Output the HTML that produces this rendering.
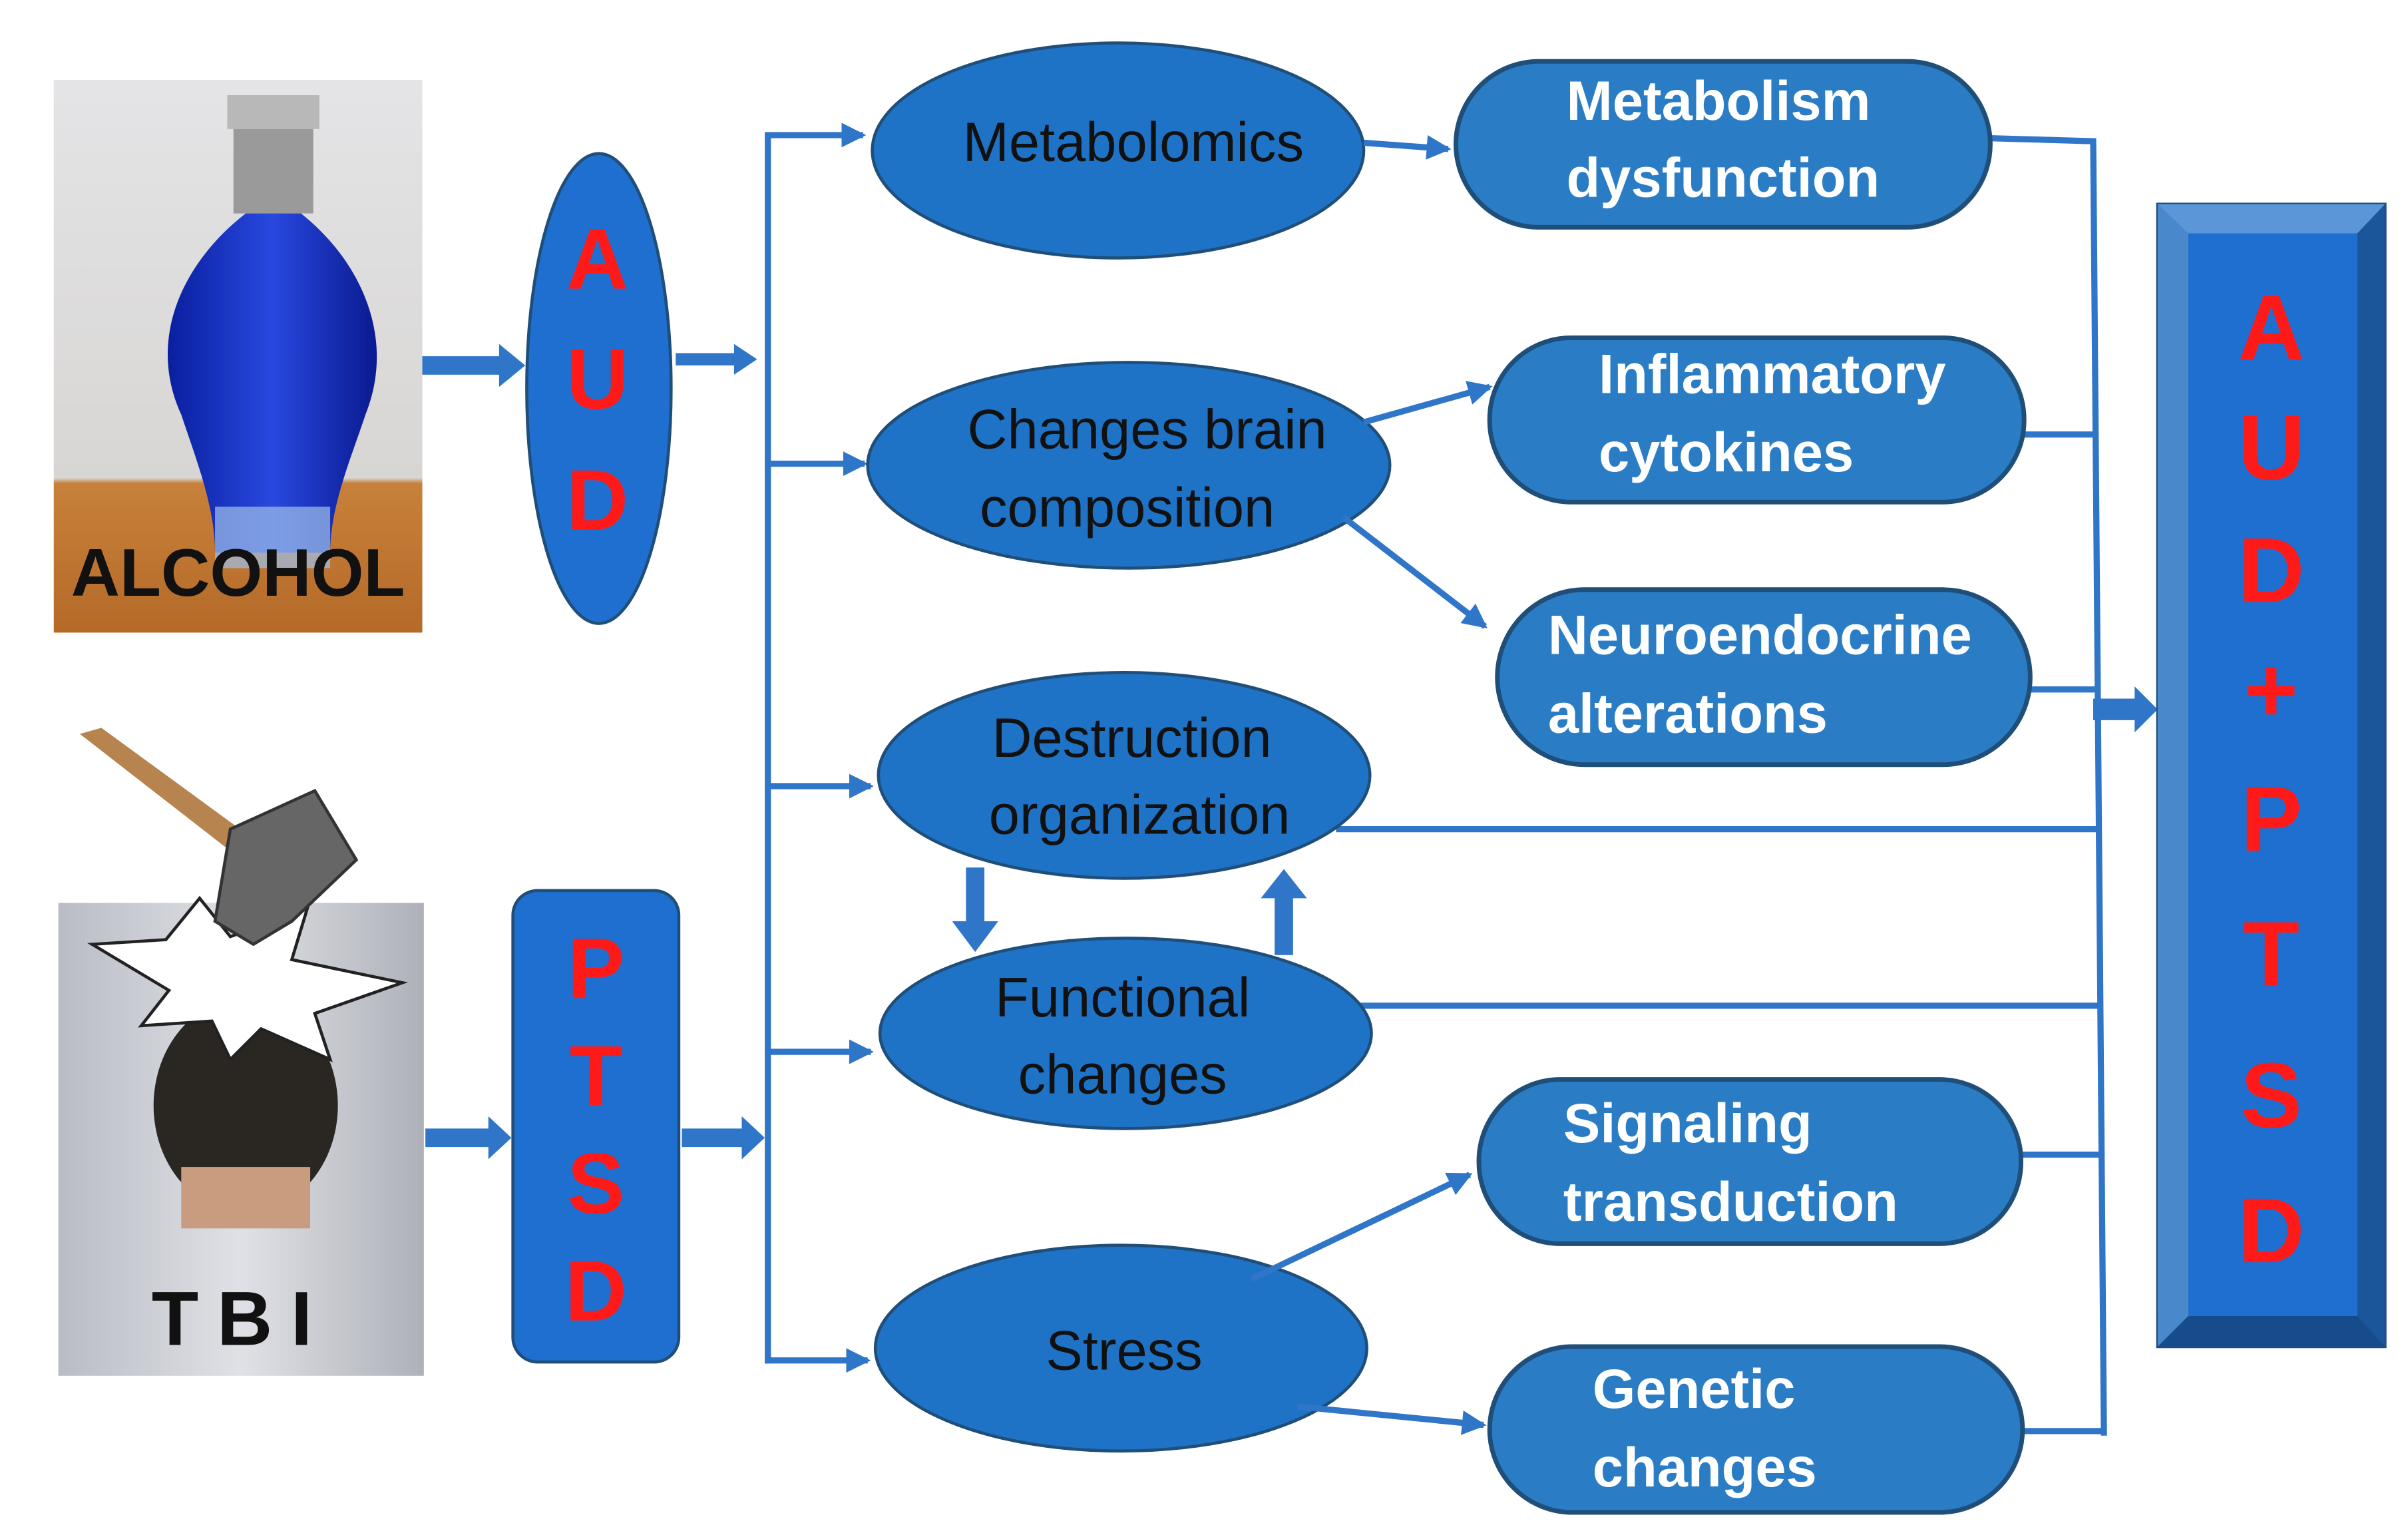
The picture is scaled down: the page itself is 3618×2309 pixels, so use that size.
<!DOCTYPE html>
<html><head><meta charset="utf-8"><style>
html,body{margin:0;padding:0;background:#fff;}
svg{display:block;}
text{font-family:"Liberation Sans",sans-serif;}
</style></head><body>
<svg width="3618" height="2309" viewBox="0 0 1568 1001" preserveAspectRatio="none" xmlns="http://www.w3.org/2000/svg">
<defs>
<linearGradient id="wall" x1="0" y1="0" x2="0" y2="1">
<stop offset="0" stop-color="#e4e4e6"/><stop offset="0.72" stop-color="#d8d6d4"/><stop offset="0.73" stop-color="#c7813a"/><stop offset="1" stop-color="#b56a28"/></linearGradient>
<linearGradient id="bottle" x1="0" y1="0" x2="1" y2="0">
<stop offset="0" stop-color="#0a1f9e"/><stop offset="0.5" stop-color="#2848e0"/><stop offset="1" stop-color="#0a1a90"/></linearGradient>
<linearGradient id="shirt" x1="0" y1="0" x2="1" y2="0">
<stop offset="0" stop-color="#b9bcc4"/><stop offset="0.5" stop-color="#dfe1e6"/><stop offset="1" stop-color="#aeb1b8"/></linearGradient>
<marker id="ah" markerWidth="8" markerHeight="8" refX="7" refY="4" orient="auto" markerUnits="userSpaceOnUse" viewBox="0 0 8 8"><path d="M0,0 L8,4 L0,8 Z" fill="#2f75c8"/></marker>
<marker id="ah2" markerWidth="16" markerHeight="16" refX="14" refY="8" orient="auto" markerUnits="userSpaceOnUse"><path d="M0,0 L16,8 L0,16 Z" fill="#2f75c8"/></marker>
</defs>

<!-- Alcohol photo -->
<rect x="35" y="52" width="240" height="360" fill="url(#wall)"/>
<rect x="148" y="62" width="60" height="22" fill="#b8b8b8"/>
<rect x="152" y="84" width="52" height="55" fill="#9a9a9a"/>
<path d="M160,139 C120,170 95,220 118,270 C128,300 140,330 140,360 L215,360 C215,330 228,300 238,270 C258,220 235,170 196,139 Z" fill="url(#bottle)"/>
<rect x="140" y="330" width="75" height="40" fill="#9fc0e8" opacity="0.7"/>
<text x="155" y="388" font-size="44" font-weight="bold" text-anchor="middle" fill="#111">ALCOHOL</text>

<!-- TBI photo -->
<rect x="38" y="588" width="238" height="308" fill="url(#shirt)"/>
<ellipse cx="160" cy="720" rx="60" ry="70" fill="#2a2622"/>
<rect x="118" y="760" width="84" height="40" fill="#c99c80"/>
<path d="M60,615 L108,612 L130,585 L150,610 L200,592 L190,625 L262,640 L205,660 L215,690 L170,670 L150,690 L138,665 L92,668 L110,645 Z" fill="#fff" stroke="#222" stroke-width="2"/>
<path d="M52,478 L66,474 L170,550 L160,562 Z" fill="#b7844f"/>
<path d="M150,540 L205,515 L232,560 L190,600 L165,615 L140,600 Z" fill="#666" stroke="#333" stroke-width="2"/>
<text x="157" y="876" font-size="50" font-weight="bold" text-anchor="middle" fill="#111" letter-spacing="12">TBI</text>

<!-- block arrows -->
<g fill="#2f75c8">
<path d="M275,232 L325,232 L325,224 L342,238 L325,252 L325,244 L275,244 Z"/>
<path d="M440,230 L478,230 L478,224 L493,234 L478,244 L478,238 L440,238 Z"/>
<path d="M277,735 L318,735 L318,727 L333,741 L318,755 L318,747 L277,747 Z"/>
<path d="M444,735 L483,735 L483,727 L498,741 L483,755 L483,747 L444,747 Z"/>
<path d="M1363,455 L1390,455 L1390,447 L1405,462 L1390,477 L1390,469 L1363,469 Z"/>
<path d="M629,565 L641,565 L641,600 L650,600 L635,620 L620,600 L629,600 Z"/>
<path d="M830,622 L842,622 L842,585 L851,585 L836,566 L821,585 L830,585 Z"/>
</g>

<!-- AUD ellipse -->
<ellipse cx="390" cy="253" rx="47" ry="153" fill="#1f6fd0" stroke="#1f4e79" stroke-width="2"/>
<g font-size="56" font-weight="bold" fill="#ff1a1a" text-anchor="middle">
<text x="389" y="188">A</text><text x="389" y="266">U</text><text x="389" y="345">D</text>
</g>
<!-- PTSD -->
<rect x="334" y="580" width="108" height="307" rx="16" fill="#1f6fd0" stroke="#1f4e79" stroke-width="2"/>
<g font-size="56" font-weight="bold" fill="#ff1a1a" text-anchor="middle">
<text x="388" y="650">P</text><text x="388" y="720">T</text><text x="388" y="790">S</text><text x="388" y="860">D</text>
</g>

<!-- left distribution lines -->
<g stroke="#2f75c8" stroke-width="4" fill="none">
<line x1="500" y1="88" x2="500" y2="888"/>
<line x1="498" y1="88" x2="562" y2="88" marker-end="url(#ah2)"/>
<line x1="498" y1="302" x2="563" y2="302" marker-end="url(#ah2)"/>
<line x1="498" y1="512" x2="567" y2="512" marker-end="url(#ah2)"/>
<line x1="498" y1="685" x2="567" y2="685" marker-end="url(#ah2)"/>
<line x1="498" y1="886" x2="565" y2="886" marker-end="url(#ah2)"/>
</g>

<!-- right collecting lines -->
<g stroke="#2f75c8" stroke-width="4" fill="none">
<line x1="1363" y1="90" x2="1370" y2="935"/>
<line x1="1296" y1="90" x2="1364" y2="92"/>
<line x1="1282" y1="283" x2="1364" y2="283"/>
<line x1="1322" y1="449" x2="1364" y2="449"/>
<line x1="870" y1="540" x2="1365" y2="540"/>
<line x1="885" y1="655" x2="1366" y2="655"/>
<line x1="1278" y1="752" x2="1368" y2="752"/>
<line x1="1317" y1="932" x2="1371" y2="932"/>
</g>

<!-- ellipses -->
<g fill="#1f73c6" stroke="#1f4e79" stroke-width="2">
<ellipse cx="728" cy="98" rx="160" ry="70"/>
<ellipse cx="735" cy="303" rx="170" ry="67"/>
<ellipse cx="732" cy="505" rx="160" ry="67"/>
<ellipse cx="733" cy="673" rx="160" ry="62"/>
<ellipse cx="730" cy="878" rx="160" ry="67"/>
</g>
<g font-size="36" fill="#111" text-anchor="middle">
<text x="738" y="105">Metabolomics</text>
<text x="747" y="292">Changes brain</text><text x="734" y="343">composition</text>
<text x="737" y="493">Destruction</text><text x="742" y="543">organization</text>
<text x="731" y="662">Functional</text><text x="731" y="712">changes</text>
<text x="732" y="892">Stress</text>
</g>

<!-- pills -->
<g fill="#2a7cc4" stroke="#1f4e79" stroke-width="3">
<rect x="948" y="40" width="348" height="108" rx="54"/>
<rect x="970" y="220" width="348" height="107" rx="53"/>
<rect x="975" y="384" width="347" height="114" rx="57"/>
<rect x="963" y="703" width="353" height="107" rx="53"/>
<rect x="970" y="877" width="347" height="108" rx="54"/>
</g>
<g font-size="36" font-weight="bold" fill="#fff">
<text x="1020" y="78">Metabolism</text><text x="1020" y="128">dysfunction</text>
<text x="1041" y="256">Inflammatory</text><text x="1041" y="307">cytokines</text>
<text x="1008" y="426">Neuroendocrine</text><text x="1008" y="477">alterations</text>
<text x="1018" y="744">Signaling</text><text x="1018" y="795">transduction</text>
<text x="1037" y="917">Genetic</text><text x="1037" y="968">changes</text>
</g>

<!-- diagonal arrows -->
<g stroke="#2f75c8" stroke-width="4" fill="none">
<line x1="888" y1="93" x2="943" y2="97" marker-end="url(#ah2)"/>
<line x1="888" y1="275" x2="970" y2="252" marker-end="url(#ah2)"/>
<line x1="875" y1="337" x2="967" y2="408" marker-end="url(#ah2)"/>
<line x1="815" y1="833" x2="957" y2="765" marker-end="url(#ah2)"/>
<line x1="845" y1="916" x2="966" y2="928" marker-end="url(#ah2)"/>
</g>

<!-- AUD+PTSD box -->
<rect x="1405" y="133" width="148" height="744" fill="#2a6fc0" stroke="#1f4e79" stroke-width="2"/>
<path d="M1405,133 L1553,133 L1535,152 L1425,152 Z" fill="#5a96d8"/>
<path d="M1405,133 L1425,152 L1425,857 L1405,877 Z" fill="#4a88cc"/>
<path d="M1553,133 L1553,877 L1535,857 L1535,152 Z" fill="#1b559a"/>
<path d="M1405,877 L1425,857 L1535,857 L1553,877 Z" fill="#174c8c"/>
<rect x="1425" y="152" width="110" height="705" fill="#1f6fd0"/>
<g font-size="60" font-weight="bold" fill="#ff1a1a" text-anchor="middle">
<text x="1479" y="234">A</text><text x="1479" y="312">U</text><text x="1479" y="392">D</text>
<text x="1479" y="470">+</text><text x="1479" y="554">P</text><text x="1479" y="642">T</text>
<text x="1479" y="734">S</text><text x="1479" y="822">D</text>
</g>
</svg>
</body></html>
